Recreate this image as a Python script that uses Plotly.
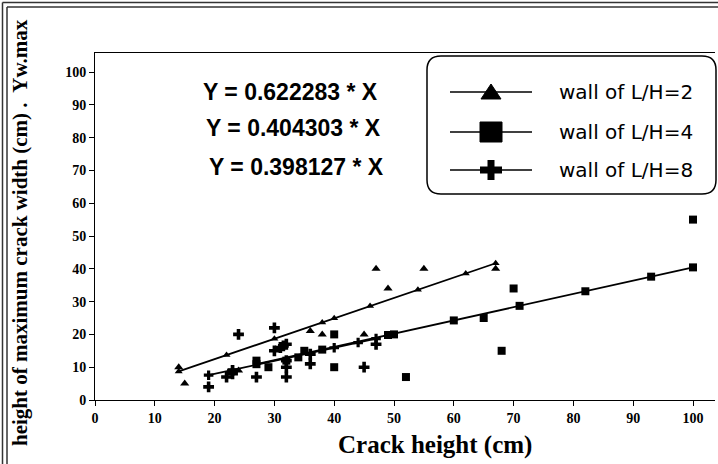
import plotly.graph_objects as go

# ---- measured points ----
lh2_x = [14, 15, 24, 36, 38, 45, 47, 49, 55, 67]
lh2_y = [10, 5, 9, 21, 20, 20, 40, 34, 40, 40]
lh4_x = [27, 29, 32, 34, 35, 40, 40, 50, 52, 65, 68, 70, 100]
lh4_y = [12, 10, 12, 13, 15, 20, 10, 20, 7, 25, 15, 34, 55]
lh8_x = [19, 22, 23, 23, 24, 27, 30, 30, 31, 31.5, 32, 32, 32, 32, 36, 36, 45, 47]
lh8_y = [4, 7, 8, 9, 20, 7, 22, 15, 16, 16.5, 17, 12, 10, 7, 14, 11, 10, 17]

# ---- regression slopes (Y = k * X) and x positions of the fitted marks ----
k2, k4, k8 = 0.622283, 0.404303, 0.398127
fit2_x = [14, 22, 30, 38, 40, 46, 54, 62, 67]
fit4_x = [27, 38, 49, 60, 71, 82, 93, 100]
fit8_x = [19, 23, 40, 44, 47]

x_ticks = [0, 10, 20, 30, 40, 50, 60, 70, 80, 90, 100]
y_ticks = [0, 10, 20, 30, 40, 50, 60, 70, 80, 90, 100]

legend_labels = ["wall of L/H=2", "wall of L/H=4", "wall of L/H=8"]
equations = ["Y = 0.622283 * X", "Y = 0.404303 * X", "Y = 0.398127 * X"]

W, H = 718, 464
L, R, T, B = 95, 715, 53, 400


def px(xp):
    return (xp - L) / (R - L)


def py(yp):
    return (B - yp) / (B - T)


fig = go.Figure()

# fitted lines with marks at the fitted values
for xs, k, sym, sz in [(fit2_x, k2, "triangle-up", 7),
                       (fit4_x, k4, "square", 8),
                       (fit8_x, k8, "cross", 8)]:
    fig.add_trace(go.Scatter(
        x=xs, y=[k * v for v in xs], mode="lines+markers",
        line=dict(color="black", width=1.8),
        marker=dict(symbol=sym, size=sz, color="black"),
        hoverinfo="skip"))

# measured points
for xs, ys, sym, sz in [(lh2_x, lh2_y, "triangle-up", 8),
                        (lh4_x, lh4_y, "square", 8),
                        (lh8_x, lh8_y, "cross", 9)]:
    fig.add_trace(go.Scatter(
        x=xs, y=ys, mode="markers",
        marker=dict(symbol=sym, size=sz, color="black"),
        hoverinfo="skip"))

axis_common = dict(
    showline=True, linecolor="black", linewidth=1,
    ticks="outside", ticklen=5, tickcolor="black", tickwidth=1,
    showgrid=False, zeroline=False,
    tickfont=dict(family="Liberation Serif", size=14, color="black"),
)

fig.update_layout(
    width=W, height=H,
    margin=dict(l=L, r=W - R, t=T, b=H - B),
    plot_bgcolor="white", paper_bgcolor="white",
    showlegend=False,
    xaxis=dict(range=[0, (R - L) / 5.98], tickvals=x_ticks,
               ticktext=[f"<b>{v}</b>" for v in x_ticks], mirror=True, **axis_common),
    yaxis=dict(range=[0, (B - T) / 3.28], tickvals=y_ticks,
               ticktext=[f"<b>{v}</b>" for v in y_ticks], **axis_common),
)

shapes = []
# outer double frame (top and left)
for off in (2.5, 7):
    shapes.append(dict(type="line", xref="paper", yref="paper",
                       x0=px(off), x1=px(W), y0=py(off), y1=py(off),
                       line=dict(color="#333", width=1.5)))
    shapes.append(dict(type="line", xref="paper", yref="paper",
                       x0=px(off), x1=px(off), y0=py(off), y1=py(H),
                       line=dict(color="#333", width=1.5)))

# rounded legend box
bx0, bx1, by0, by1, r = 427, 716, 56, 194, 14
pts = [("M", bx0 + r, by0), ("L", bx1 - r, by0), ("Q", bx1, by0, bx1, by0 + r),
       ("L", bx1, by1 - r), ("Q", bx1, by1, bx1 - r, by1), ("L", bx0 + r, by1),
       ("Q", bx0, by1, bx0, by1 - r), ("L", bx0, by0 + r), ("Q", bx0, by0, bx0 + r, by0)]
path = ""
for p in pts:
    cmd, coords = p[0], p[1:]
    xy = []
    for i in range(0, len(coords), 2):
        xy.append(f"{px(coords[i]):.5f},{py(coords[i + 1]):.5f}")
    path += cmd + " " + " ".join(xy) + " "
shapes.append(dict(type="path", xref="paper", yref="paper", path=path + "Z",
                   line=dict(color="black", width=1.5), fillcolor="white", layer="above"))

# legend symbols
rows = [92, 132, 170]
cx = 491
for yrow in rows:
    shapes.append(dict(type="line", xref="paper", yref="paper",
                       x0=px(450), x1=px(532), y0=py(yrow), y1=py(yrow),
                       line=dict(color="black", width=1.5), layer="above"))
# triangle
tri = f"M {px(cx - 10):.5f},{py(rows[0] + 7):.5f} L {px(cx + 10):.5f},{py(rows[0] + 7):.5f} L {px(cx):.5f},{py(rows[0] - 8):.5f} Z"
shapes.append(dict(type="path", xref="paper", yref="paper", path=tri,
                   fillcolor="black", line=dict(color="black", width=1), layer="above"))
# square
shapes.append(dict(type="rect", xref="paper", yref="paper",
                   x0=px(cx - 11), x1=px(cx + 11), y0=py(rows[1] - 10), y1=py(rows[1] + 10),
                   fillcolor="black", line=dict(color="black", width=1), layer="above"))
# cross
shapes.append(dict(type="rect", xref="paper", yref="paper",
                   x0=px(cx - 11), x1=px(cx + 11), y0=py(rows[2] - 3.5), y1=py(rows[2] + 3.5),
                   fillcolor="black", line=dict(color="black", width=0), layer="above"))
shapes.append(dict(type="rect", xref="paper", yref="paper",
                   x0=px(cx - 3.5), x1=px(cx + 3.5), y0=py(rows[2] - 10), y1=py(rows[2] + 10),
                   fillcolor="black", line=dict(color="black", width=0), layer="above"))
fig.update_layout(shapes=shapes)

annotations = []
for label, yrow in zip(legend_labels, rows):
    annotations.append(dict(xref="paper", yref="paper", x=px(557), y=py(yrow),
                            xanchor="left", yanchor="middle", showarrow=False, text=label,
                            font=dict(family="DejaVu Sans", size=20, color="black")))
for eq, (xc, yc) in zip(equations, [(290, 92), (293, 128), (296, 167)]):
    annotations.append(dict(xref="paper", yref="paper", x=px(xc), y=py(yc),
                            xanchor="center", yanchor="middle", showarrow=False,
                            text=f"<b>{eq}</b>",
                            font=dict(family="Liberation Sans", size=23, color="black")))
annotations.append(dict(xref="paper", yref="paper", x=px(435), y=py(445),
                        xanchor="center", yanchor="middle", showarrow=False,
                        text="<b>Crack height (cm)</b>",
                        font=dict(family="Liberation Serif", size=25, color="black")))
annotations.append(dict(xref="paper", yref="paper", x=px(20), y=py(233),
                        xanchor="center", yanchor="middle", showarrow=False, textangle=-90,
                        text="<b>height of maximum crack width (cm) .  Yw.max</b>",
                        font=dict(family="Liberation Serif", size=21, color="black")))
fig.update_layout(annotations=annotations)

fig.write_html("out.html")
